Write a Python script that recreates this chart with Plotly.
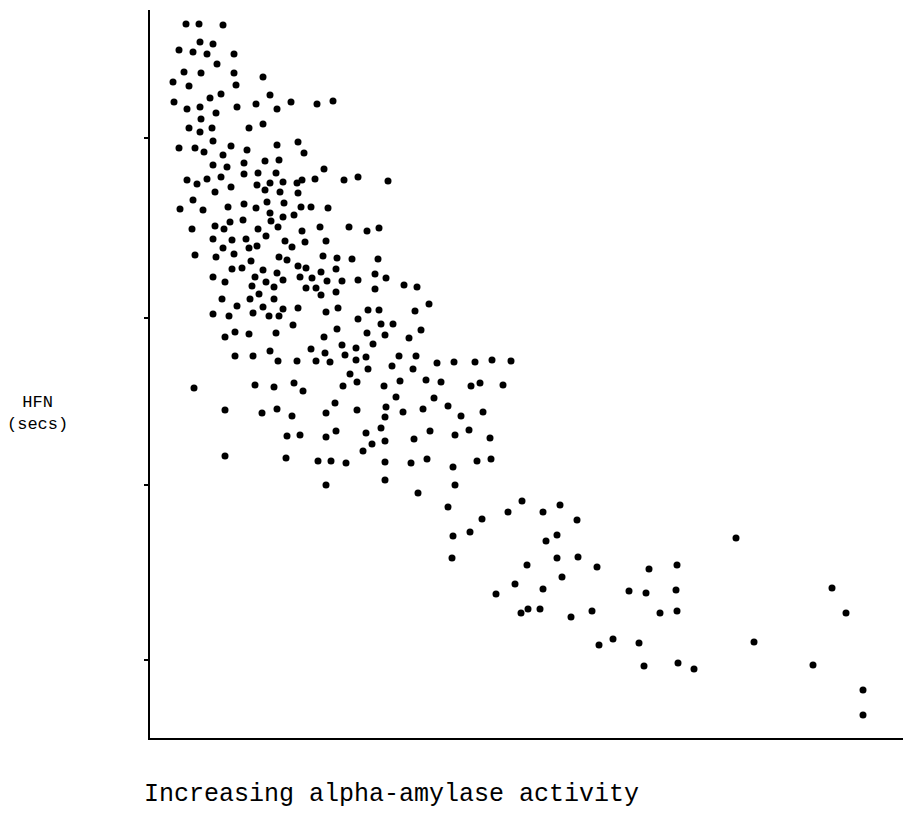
import plotly.graph_objects as go

# Relative alpha-amylase activity (arbitrary units) and HFN (relative scale)
activity = [
    36, 49, 73, 50, 63, 29, 43, 57, 84, 67, 34, 51, 84, 113, 23, 39, 86, 71, 60, 120,
    24, 37, 50, 66, 87, 106, 127, 141, 167, 183, 51, 39, 50, 62, 99, 113,
    63, 29, 45, 54, 81, 97, 127, 73, 63, 77, 94, 115, 129, 37, 47, 57, 71, 94, 108, 126,
    81, 65, 107, 115, 120, 133, 130, 43, 30, 53, 78, 94, 106, 117, 134, 120, 133, 65, 80,
    93, 121, 42, 74, 108, 128, 63, 82, 96, 116, 135, 73, 99, 107,
    148, 154, 174, 152, 147, 165, 194, 208, 238, 148, 151, 161, 178, 144, 152, 170, 199,
    217, 229, 155, 176, 142,
    45, 66, 84, 101, 129, 137, 82, 92, 113, 127, 63, 75, 105, 116, 133, 102, 124, 109, 72,
    100, 124, 87, 113, 133, 63, 79, 103, 119, 129, 75, 85, 99, 126, 85, 103, 120, 128,
    173, 187, 202, 228, 148, 156, 171, 186, 150, 162, 177, 192, 208, 225, 236, 254, 267,
    156, 166, 186, 171, 225, 148, 176, 188, 218, 229, 265, 279, 143, 208, 231, 243, 187,
    217, 235, 271, 174, 259, 192, 206, 223, 161, 175, 195, 216, 249, 266, 147, 166, 180, 206,
    44, 105, 124, 144, 75, 112, 127, 142, 137, 150, 75, 136,
    218, 242, 263, 287, 304, 325, 342, 361, 153, 193, 200, 207, 234, 250, 276, 291, 321, 330,
    353, 185, 246, 284, 176, 207, 236, 253, 273, 298, 311, 333, 235, 176, 186, 216, 231, 222,
    213, 235, 264, 280, 305, 319, 340, 168, 181, 196, 235, 261, 277, 303, 327, 341, 176, 235,
    268, 305, 298, 372,
    332, 358, 393, 410, 427, 303, 320, 396, 407, 302, 377, 407, 428, 447, 499, 412, 365, 393,
    346, 479, 496, 371, 378, 390, 421, 442, 449, 463, 489, 494,
    586, 527, 526, 510, 527, 682, 696, 528, 544, 604, 663, 713, 713,
]
hfn = [
    714, 714, 713, 696, 694, 688, 686, 684, 684, 674, 666, 665, 665, 661, 656, 652, 653, 644, 640, 643,
    636, 629, 631, 625, 631, 634, 629, 636, 634, 637, 619, 610, 606, 610, 610, 614,
    597, 590, 590, 586, 592, 588, 593, 583, 573, 571, 575, 577, 578, 558, 554, 559, 561, 564, 565, 565,
    551, 546, 553, 548, 555, 556, 546, 538, 529, 528, 531, 534, 530, 536, 535, 525, 521, 512, 516,
    518, 517, 509, 509, 509, 511, 499, 498, 499, 502, 497, 490, 490, 492,
    596, 585, 569, 558, 555, 559, 558, 561, 557, 545, 531, 531, 530, 523, 507, 511, 511,
    507, 510, 496, 497, 491,
    483, 481, 484, 477, 481, 478, 469, 470, 468, 465, 461, 456, 461, 456, 458, 452, 451, 444, 439,
    439, 439, 432, 431, 429, 424, 422, 425, 422, 422, 401, 406, 404, 405, 382, 382, 387, 377,
    482, 480, 479, 479, 472, 470, 466, 469, 461, 460, 457, 457, 458, 464, 460, 453, 451,
    450, 450, 446, 443, 449, 430, 426, 430, 428, 428, 427, 434, 413, 419, 414, 414, 409,
    405, 403, 408, 401, 400, 393, 390, 394, 389, 385, 383, 381, 382, 382, 377, 377, 376, 378,
    350, 353, 351, 355, 328, 325, 329, 322, 302, 303, 282, 280,
    369, 372, 369, 375, 376, 376, 378, 377, 347, 352, 364, 356, 352, 357, 358, 356, 352, 355,
    353, 335, 341, 340, 325, 328, 331, 326, 329, 332, 322, 326, 321, 301, 307, 305, 310, 294,
    287, 297, 299, 307, 303, 308, 300, 277, 277, 275, 276, 275, 279, 271, 277, 279, 253, 258,
    245, 253, 231, 237,
    219, 226, 226, 233, 218, 202, 206, 197, 203, 180, 173, 180, 181, 171, 169, 161, 154, 149,
    144, 147, 145, 125, 129, 129, 121, 127, 93, 99, 95, 72,
    200, 173, 148, 125, 127, 150, 125, 75, 69, 96, 73, 48, 23,
]
hfn_ticks = [78, 253, 420, 600]

x_label = "Increasing alpha-amylase activity"
y_label = "HFN<br>(secs)"

fig = go.Figure(
    go.Scatter(
        x=activity, y=hfn, mode="markers",
        marker=dict(color="black", size=7, line=dict(width=0)),
        hoverinfo="x+y",
    )
)

fig.update_layout(
    width=903, height=824,
    margin=dict(l=150, r=0, t=10, b=86),
    paper_bgcolor="white", plot_bgcolor="white",
    showlegend=False,
    xaxis=dict(range=[0, 753], showgrid=False, zeroline=False, showline=True,
               linecolor="black", linewidth=2, showticklabels=False, ticks=""),
    yaxis=dict(range=[0, 728], showgrid=False, zeroline=False, showline=True,
               linecolor="black", linewidth=2, showticklabels=False,
               tickvals=hfn_ticks, ticks="outside", ticklen=4, tickwidth=2,
               tickcolor="black"),
    annotations=[
        dict(text=x_label, xref="paper", yref="paper", x=-0.0106, y=-0.077,
             xanchor="left", yanchor="middle", showarrow=False,
             font=dict(family="Liberation Mono, Courier New, monospace", size=25, color="black")),
        dict(text=y_label, xref="paper", yref="paper", x=-0.149, y=0.446,
             xanchor="center", yanchor="middle", align="center", showarrow=False,
             font=dict(family="Liberation Mono, Courier New, monospace", size=17, color="black")),
    ],
)

fig.write_html(
    "out.html",
    config={"displayModeBar": False},
    post_script="document.body.style.margin='0';document.body.style.overflow='hidden';",
)
